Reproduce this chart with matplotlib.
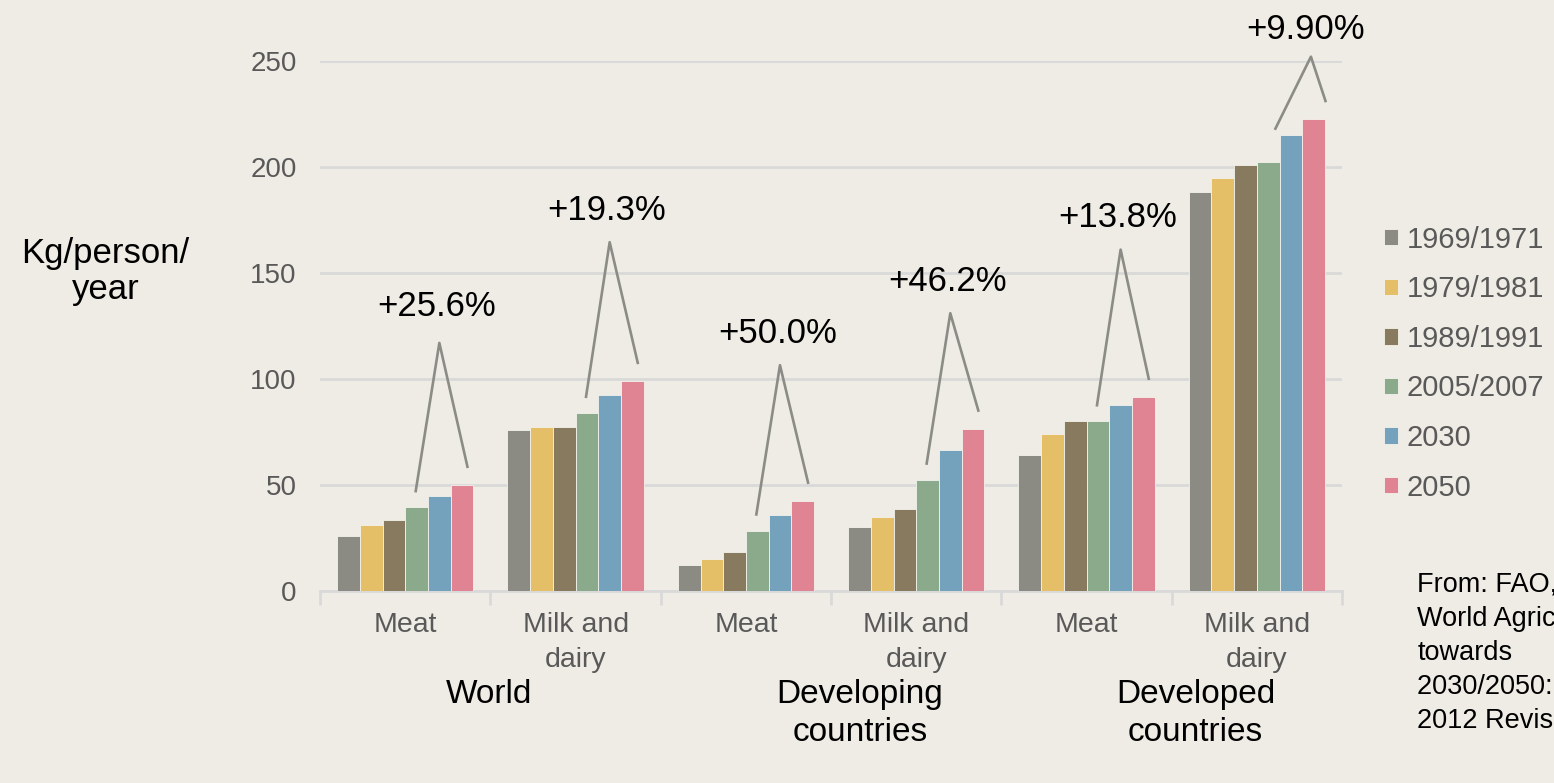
import numpy as np
import matplotlib.pyplot as plt

# data (kg/person/year)
categories = ['Meat', 'Milk and\ndairy', 'Meat', 'Milk and\ndairy', 'Meat', 'Milk and\ndairy']
periods = ['1969/1971', '1979/1981', '1989/1991', '2005/2007', '2030', '2050']
v_1970 = [26, 76, 12.5, 30, 64, 188]
v_1980 = [31, 77.5, 15, 35, 74, 195]
v_1990 = [33.5, 77.5, 18.5, 38.5, 80, 201]
v_2006 = [39.5, 84, 28.5, 52.5, 80, 202.5]
v_2030 = [45, 92.5, 36, 66.5, 87.5, 215]
v_2050 = [50, 99, 42.5, 76.5, 91.5, 222.5]
growth = ['+25.6%', '+19.3%', '+50.0%', '+46.2%', '+13.8%', '+9.90%']
apex_y = [117, 164.5, 106.5, 131, 161, 252]
regions = ['World', 'Developing\ncountries', 'Developed\ncountries']

series = [v_1970, v_1980, v_1990, v_2006, v_2030, v_2050]
colors = ['#8b8b84', '#e4bf68', '#887a5f', '#8baa8b', '#74a1bb', '#e08393']
bg = '#eeece4'

plt.rcParams['font.family'] = ['Liberation Sans', 'DejaVu Sans']

fig = plt.figure(figsize=(15.54, 7.83), dpi=100, facecolor=bg)
ax = fig.add_axes([0.206, 0.2452, 0.6576, 0.6770], facecolor=bg)

x = np.arange(len(categories))
w = 0.8 / len(series)
for i, (vals, c, lab) in enumerate(zip(series, colors, periods)):
    ax.bar(x + (i - 2.5) * w, vals, w, color=c, label=lab,
           edgecolor='#f4f2ec', linewidth=0.6, zorder=3)

ax.set_xlim(-0.5, 5.5)
ax.set_ylim(0, 250)
ax.set_yticks([0, 50, 100, 150, 200, 250])
ax.grid(axis='y', color='#d9d9d9', linewidth=2, zorder=0)
for s in ['top', 'right', 'left']:
    ax.spines[s].set_visible(False)
ax.spines['bottom'].set_color('#d9d9d9')
ax.spines['bottom'].set_linewidth(2)
ax.tick_params(axis='y', length=0, labelsize=20, labelcolor='#595959', pad=17)

# category labels + separator ticks between groups
ax.set_xticks(x)
ax.set_xticklabels(categories, fontsize=20.5, color='#595959', linespacing=1.45)
ax.tick_params(axis='x', length=0, pad=15)
ax.set_xticks(np.arange(-0.5, 6.0, 1.0), minor=True)
ax.tick_params(axis='x', which='minor', length=10, width=2, color='#d9d9d9')

# growth annotations: line from 2005/07 bar up to apex, down to 2050 bar
for i in range(len(categories)):
    g = v_2006[i]
    p = v_2050[i]
    apex = apex_y[i]
    if i == 5:
        xs = [i + 0.79 * w, i + 2.38 * w, i + 3.04 * w]
        ys = [g + 15, apex, p + 8]
        tx = i + 0.288
        ty = apex + 13
    else:
        xs = [i + 0.45 * w, i + 1.5 * w, i + 2.75 * w]
        ys = [g + 7, apex, p + 8]
        tx = i + 1.5 * w - 0.015
        ty = apex + (17 if i == 0 else 15)
    ax.plot(xs, ys, color='#8c8c86', linewidth=1.9, solid_capstyle='butt',
            zorder=4, clip_on=False)
    ax.text(tx, ty, growth[i], fontsize=25, ha='center', va='center',
            color='black', clip_on=False)

# region labels under the categories
for xpos, lab in zip([0.49, 2.67, 4.64], regions):
    ax.text(xpos, -41.5, lab, fontsize=24, ha='center', va='top',
            color='black', linespacing=1.3)

fig.text(0.068, 0.653, 'Kg/person/\nyear', fontsize=25, ha='center', va='center',
         linespacing=1.1)

ax.legend(loc='center left', bbox_to_anchor=(1.015, 0.429), frameon=False,
          fontsize=21, labelcolor='#595959', handlelength=0.48, handleheight=0.48,
          handletextpad=0.3, labelspacing=0.74)

# source note, runs off the right edge as in the original slide
fig.text(0.912, 0.27, 'From: FAO,\nWorld Agriculture\ntowards\n2030/2050: The\n2012 Revision',
         fontsize=19.5, ha='left', va='top', linespacing=1.4)

fig.savefig('out.png', dpi=100, facecolor=bg)
